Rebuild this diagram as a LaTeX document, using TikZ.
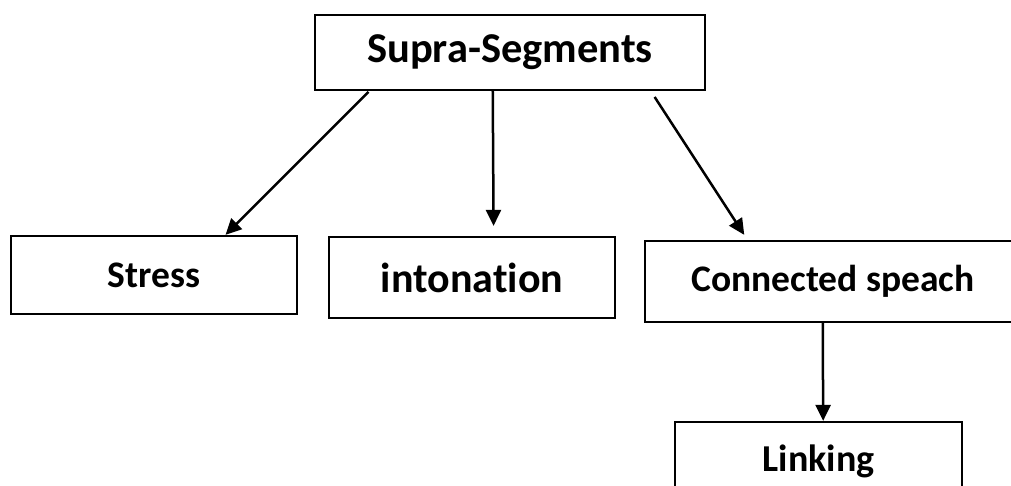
\documentclass[tikz,border=0pt]{standalone}
\usepackage{fontspec}
\setmainfont[Ligatures={NoCommon}]{Carlito}
\usetikzlibrary{arrows.meta,calc}
\begin{document}
\begin{tikzpicture}[x=1pt,y=-1pt,
  box/.style={draw,line width=2.2pt,rectangle,inner sep=0pt,font=\bfseries},
  arr/.style={line width=2.5pt,-{Triangle[length=16pt,width=15pt]}}]
\useasboundingbox (0,0) rectangle (1011,486);
\begin{scope}
\clip (0,0) rectangle (1011,486);
\node[box,minimum width=390pt,minimum height=75pt,font=\bfseries\fontsize{42.5}{50}\selectfont] (sup) at (510,52.5) {Supra-Segments};
\node[box,minimum width=286pt,minimum height=78pt,font=\bfseries\fontsize{37.5}{44}\selectfont] (stress) at (154,275) {Stress};
\node[box,minimum width=286pt,minimum height=81pt,font=\bfseries\fontsize{42}{50}\selectfont] (inton) at (472,277.5) {intonation};
\node[box,minimum width=376pt,minimum height=81pt,font=\bfseries\fontsize{37.5}{46}\selectfont] (conn) at (833,281.5) {Connected speach};
\node[box,minimum width=287pt,minimum height=78pt,font=\bfseries\fontsize{38}{44}\selectfont] (link) at (818.5,461) {Linking};
\end{scope}
\draw[arr,shorten <=1pt] ($(sup.south west)!0.141!(sup.south east)$) -- ($(stress.north west)!0.748!(stress.north east)$);
\draw[arr,shorten >=10pt] ($(sup.south west)!0.456!(sup.south east)$) -- ($(inton.north west)!0.575!(inton.north east)$);
\draw[arr,shorten <=7pt,shorten >=6pt] ($(sup.south west)!0.859!(sup.south east)$) -- ($(conn.north west)!0.274!(conn.north east)$);
\draw[arr] ($(conn.south west)!0.473!(conn.south east)$) -- ($(link.north west)!0.516!(link.north east)$);
\end{tikzpicture}
\end{document}
